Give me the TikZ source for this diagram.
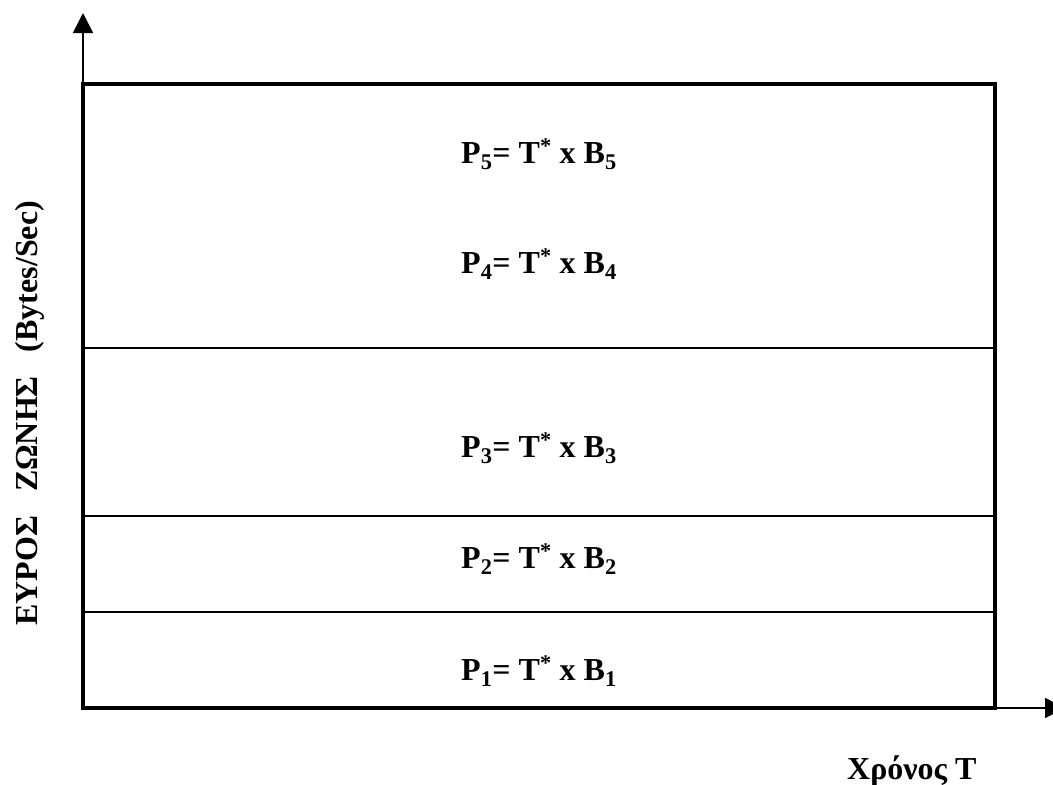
\documentclass[tikz,border=0pt]{standalone}
\usepackage{fontspec}
\setmainfont{Liberation Serif}
\usetikzlibrary{arrows.meta}
\begin{document}
\begin{tikzpicture}[x=1pt,y=-1pt,
  axis/.style={line width=1.6pt,-{Triangle[length=20pt,width=20pt]}},
  frame/.style={line width=3.5pt},
  sep/.style={line width=1.8pt},
  lab/.style={font=\fontsize{32}{36}\selectfont\bfseries,inner sep=0pt,anchor=base},
  axlab/.style={font=\fontsize{32}{36}\selectfont\bfseries,inner sep=0pt}]
\useasboundingbox (0,0) rectangle (1053,785);
\coordinate (O) at (83,708);
\coordinate (ytip) at (83,13);
\coordinate (xtip) at (1065,708);
\draw[axis] (O) -- (ytip);
\draw[axis] (O) -- (xtip);
\draw[frame] (83,84) rectangle (995,708);
\draw[sep] (83,348) -- (995,348);
\draw[sep] (83,516) -- (995,516);
\draw[sep] (83,612) -- (995,612);
\node[lab] (p5) at (539,163) {P\textsubscript{5}= T\textsuperscript{*} x B\textsubscript{5}};
\node[lab] (p4) at (539,273) {P\textsubscript{4}= T\textsuperscript{*} x B\textsubscript{4}};
\node[lab] (p3) at (539,457) {P\textsubscript{3}= T\textsuperscript{*} x B\textsubscript{3}};
\node[lab] (p2) at (539,568) {P\textsubscript{2}= T\textsuperscript{*} x B\textsubscript{2}};
\node[lab] (p1) at (539,680) {P\textsubscript{1}= T\textsuperscript{*} x B\textsubscript{1}};
\node[axlab,rotate=90,anchor=base west] (ylab) at (37,626) {ΕΥΡΟΣ\hspace{0.75em}ΖΩΝΗΣ\hspace{0.75em}(Bytes/Sec)};
\node[axlab,anchor=base west] (xlab) at (847,779) {Χρόνος Τ};
\end{tikzpicture}
\end{document}
